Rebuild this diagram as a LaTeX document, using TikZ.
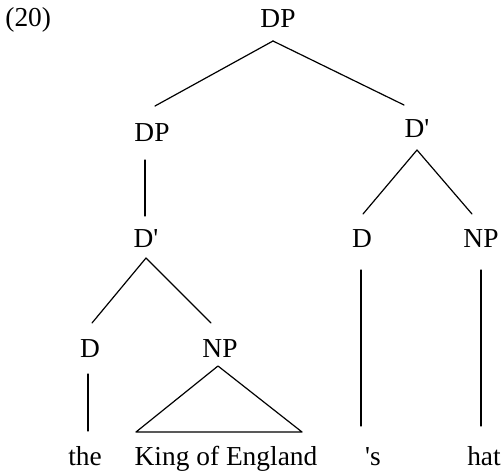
\documentclass[tikz,border=0pt]{standalone}
\usepackage{fontspec}
\setmainfont{Liberation Serif}
\usetikzlibrary{calc}
\begin{document}
\begin{tikzpicture}[x=0.5pt,y=-0.5pt,
  lab/.style={anchor=base,inner sep=0pt,font=\fontsize{13.7}{16}\selectfont},
  edge/.style={line width=0.6pt,line cap=round,line join=round}]
\useasboundingbox (0,0) rectangle (503,471);
% labels
\node[lab,anchor=base west] (ex) at (5,26) {(20)};
\node[lab] (dp0) at (278,27) {DP};
\node[lab] (dp1) at (152,141) {DP};
\node[lab] (db1) at (417,137) {D\textquotesingle};
\node[lab] (dbl) at (146,247) {D\textquotesingle};
\node[lab] (dR) at (362,247) {D};
\node[lab] (npR) at (481,247) {NP};
\node[lab] (dL) at (90,357) {D};
\node[lab] (npL) at (220,357) {NP};
\node[lab] (the) at (85,465) {the};
\node[lab] (king) at (226,465) {King of England};
\node[lab] (s) at (373,465) {\textquotesingle s};
\node[lab] (hat) at (484,465) {hat};
% connectors
\draw[edge] ($(dp0.base)+(-5,14)$) -- ($(dp1.base)+(3,-35)$);
\draw[edge] ($(dp0.base)+(-5,14)$) -- ($(db1.base)+(-13,-32)$);
\draw[edge] ($(dp1.base)+(-7,19)$) -- ($(dbl.base)+(-1,-31)$);
\draw[edge] ($(db1.base)+(0,13)$) -- ($(dR.base)+(1,-33)$);
\draw[edge] ($(db1.base)+(0,13)$) -- ($(npR.base)+(-9,-33)$);
\draw[edge] ($(dbl.base)+(0,11)$) -- ($(dL.base)+(2,-34)$);
\draw[edge] ($(dbl.base)+(0,11)$) -- ($(npL.base)+(-9,-34)$);
\draw[edge] ($(dL.base)+(-2,17)$) -- ($(the.base)+(3,-34)$);
\draw[edge] ($(npL.base)+(-2,9)$) -- ($(king.base)+(-90,-33)$) -- ($(king.base)+(76,-33)$) -- cycle;
\draw[edge] ($(dR.base)+(-1,23)$) -- ($(s.base)+(-12,-39)$);
\draw[edge] ($(npR.base)+(0,23)$) -- ($(hat.base)+(-3,-39)$);
\end{tikzpicture}
\end{document}
